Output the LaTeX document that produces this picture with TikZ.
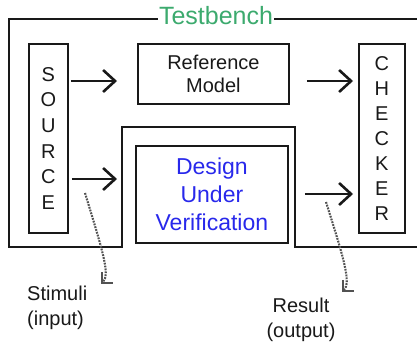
\documentclass[tikz,border=0pt]{standalone}
\usepackage{fontspec}
\setmainfont{Liberation Sans}
\usetikzlibrary{arrows.meta,calc}
\definecolor{tbgreen}{RGB}{60,170,110}
\definecolor{duvblue}{RGB}{40,40,235}
\definecolor{ink}{RGB}{25,25,25}
\begin{document}
\begin{tikzpicture}[x=1pt,y=-1pt,
  box/.style={draw=ink, line width=1.8pt, inner sep=0pt, anchor=north west, align=center},
  flow/.style={draw=ink, line width=2.6pt, -{Straight Barb[length=12pt,width=22pt]}},
  probe/.style={draw=black!68, line width=2.1pt, dash pattern=on 1.8pt off 1.1pt,
    -{Straight Barb[length=7.5pt,width=15pt]}},
  lbl/.style={font=\fontsize{20}{25}\selectfont, text=ink, inner sep=0pt}
]
\useasboundingbox (0,0) rectangle (417,343);

% testbench outline with the notch around the DUV
\draw[ink, line width=1.8pt] (417,19) -- (9,19) -- (9,247) -- (122,247) -- (122,127)
  -- (295,127) -- (295,247) -- (417,247);
\node[font=\fontsize{25}{30}\selectfont, text=tbgreen, fill=white, inner sep=1.5pt] (tb) at (216,16) {Testbench};

% blocks
\node[box, minimum width=39pt, minimum height=189pt, text=ink,
  font=\fontsize{20}{25.6}\selectfont] (source) at (28,43) {S\\O\\U\\R\\C\\E};
\node[box, minimum width=46pt, minimum height=189pt, text=ink,
  font=\fontsize{20}{25}\selectfont] (checker) at (358,43) {C\\H\\E\\C\\K\\E\\R};
\node[box, minimum width=151pt, minimum height=60pt, text=ink,
  font=\fontsize{20}{23}\selectfont] (refmodel) at (137,43) {Reference\\Model};
\node[box, minimum width=152pt, minimum height=97pt, text=duvblue,
  font=\fontsize{23}{28}\selectfont] (duv) at (135,145) {Design\\Under\\Verification};

% data flow
\coordinate (r1) at (0,81);
\coordinate (r2) at (0,179);
\coordinate (r3) at (0,194);
\draw[flow, shorten <=2pt, shorten >=20pt] (source.east |- r1) -- (refmodel.west |- r1);
\draw[flow, shorten <=17pt, shorten >=5pt] (refmodel.east |- r1) -- (checker.west |- r1);
\draw[flow, shorten <=3pt, shorten >=18pt] (source.east |- r2) -- (duv.west |- r2);
\draw[flow, shorten <=16pt, shorten >=5pt] (duv.east |- r3) -- (checker.west |- r3);

% annotations
\node[lbl, align=left, anchor=north west] (stimuli) at (27,285.5) {Stimuli\\(input)};
\node[lbl, align=center, anchor=north] (result) at (301,297.5) {Result\\(output)};
\coordinate (stimtail) at (85,193);
\coordinate (stimtip) at (101,284);
\coordinate (restail) at (326,202);
\coordinate (restip) at (342,292);
\draw[probe] (stimtail) .. controls (104,255) and (110,275) .. (stimtip);
\draw[probe] (restail) .. controls (345,262) and (351,283) .. (restip);
\end{tikzpicture}
\end{document}
